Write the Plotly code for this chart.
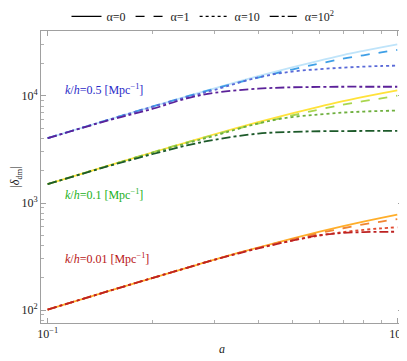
import plotly.graph_objects as go

# scale factor samples
a_vals = [0.1, 0.15, 0.2, 0.25, 0.3, 0.4, 0.5, 0.6, 0.7, 0.8, 0.9, 1.0]

# k/h = 0.5
k05_a0 = [4030, 6030, 8000, 9920, 11800, 15300, 18500, 21400, 24100, 26400, 28500, 30400]
k05_a1 = [4030, 6030, 8000, 9900, 11700, 14850, 17670, 20100, 22300, 24000, 25550, 26900]
k05_a10 = [4030, 6020, 7950, 9750, 11400, 14900, 16900, 17800, 18400, 18800, 19050, 19200]
k05_a100 = [4030, 5950, 7600, 9500, 10700, 11700, 12050, 12150, 12200, 12200, 12200, 12200]

# k/h = 0.1
k01_a0 = [1500, 2245, 2980, 3690, 4390, 5690, 6880, 7960, 8970, 9830, 10600, 11300]
k01_a1 = [1500, 2245, 2980, 3680, 4350, 5520, 6570, 7480, 8300, 8950, 9500, 10070]
k01_a10 = [1500, 2240, 2950, 3620, 4250, 5550, 6350, 6720, 7000, 7150, 7250, 7300]
k01_a100 = [1500, 2220, 2870, 3450, 3900, 4450, 4620, 4680, 4700, 4710, 4710, 4710]

# k/h = 0.01
k001_a0 = [101, 151, 200, 248, 296, 384, 465, 540, 608, 670, 725, 778]
k001_a1 = [101, 151, 200, 248, 296, 382, 458, 523, 581, 631, 671, 708]
k001_a10 = [101, 151, 200, 248, 296, 380, 446, 497, 535, 561, 580, 593]
k001_a100 = [101, 151, 200, 248, 295, 376, 445, 500, 525, 535, 538, 539]

alpha_labels = ["α=0", "α=1", "α=10", "α=10<sup>2</sup>"]
dashes = ["solid", "dash", "dot", "dashdot"]

groups = [
    ([k05_a0, k05_a1, k05_a10, k05_a100], ["#bfe4fa", "#3e9fe6", "#5a6ad8", "#5b2199"]),
    ([k01_a0, k01_a1, k01_a10, k01_a100], ["#ffe23a", "#a9d64e", "#6eaf3e", "#1d5a2a"]),
    ([k001_a0, k001_a1, k001_a10, k001_a100], ["#ffae2a", "#f08532", "#e04a30", "#bd2222"]),
]

fig = go.Figure()

for series, colors in groups:
    for ys, c, d in zip(series, colors, dashes):
        fig.add_trace(go.Scatter(
            x=a_vals, y=ys, mode="lines", line_shape="spline",
            line=dict(color=c, width=1.8, dash=d),
            showlegend=False, hoverinfo="skip",
        ))

# legend entries in black
for lab, d in zip(alpha_labels, dashes):
    fig.add_trace(go.Scatter(
        x=[None], y=[None], mode="lines", name=lab,
        line=dict(color="black", width=1.3, dash=d),
    ))

# (text, colour, log10 y of label centre)
labels = [
    ("<i>k</i>/<i>h</i>=0.5 [Mpc<sup>−1</sup>]", "#2a2ac8", 4.056),
    ("<i>k</i>/<i>h</i>=0.1 [Mpc<sup>−1</sup>]", "#22b022", 3.075),
    ("<i>k</i>/<i>h</i>=0.01 [Mpc<sup>−1</sup>]", "#b81414", 2.486),
]
for txt, c, ly in labels:
    fig.add_annotation(x=-0.955, y=ly, xanchor="left", yanchor="middle", text=txt,
                       showarrow=False, font=dict(color=c, size=12))

axis_style = dict(
    type="log", showgrid=False, zeroline=False, showline=True,
    linecolor="#a0a0a0", linewidth=1, mirror="allticks",
    ticks="inside", ticklen=5, tickcolor="#a0a0a0",
    minor=dict(ticks="inside", ticklen=3, tickcolor="#b0b0b0", dtick="D1", showgrid=False),
    tickfont=dict(size=12, color="#222"), ticklabeloverflow="allow",
)

fig.update_xaxes(**axis_style, range=[-1.019, 0.0164],
                 tickvals=[0.1, 1],
                 ticktext=["10<sup>−1</sup>", "10<sup>0</sup>"],
                 title=dict(text="<i>a</i>", font=dict(size=12), standoff=4))
fig.update_yaxes(**axis_style, range=[1.879, 4.607],
                 tickvals=[100, 1000, 10000],
                 ticktext=["10<sup>2</sup>", "10<sup>3</sup>", "10<sup>4</sup>"],
                 title=dict(text="|<i>δ</i><sub>dm</sub>|", font=dict(size=12), standoff=1))

# the page body adds an 8px offset, so the figure is 8px smaller than the window
fig.update_layout(
    width=399, height=353,
    margin=dict(l=33, r=4, t=23, b=38, autoexpand=False),
    paper_bgcolor="white", plot_bgcolor="white",
    font=dict(family="Liberation Serif, DejaVu Serif, serif", color="#222"),
    legend=dict(orientation="h", x=0.4475, xanchor="center", y=1.05, yanchor="middle",
                font=dict(size=12), itemwidth=30, tracegroupgap=0,
                bgcolor="rgba(0,0,0,0)"),
)

fig.write_html("out.html")
